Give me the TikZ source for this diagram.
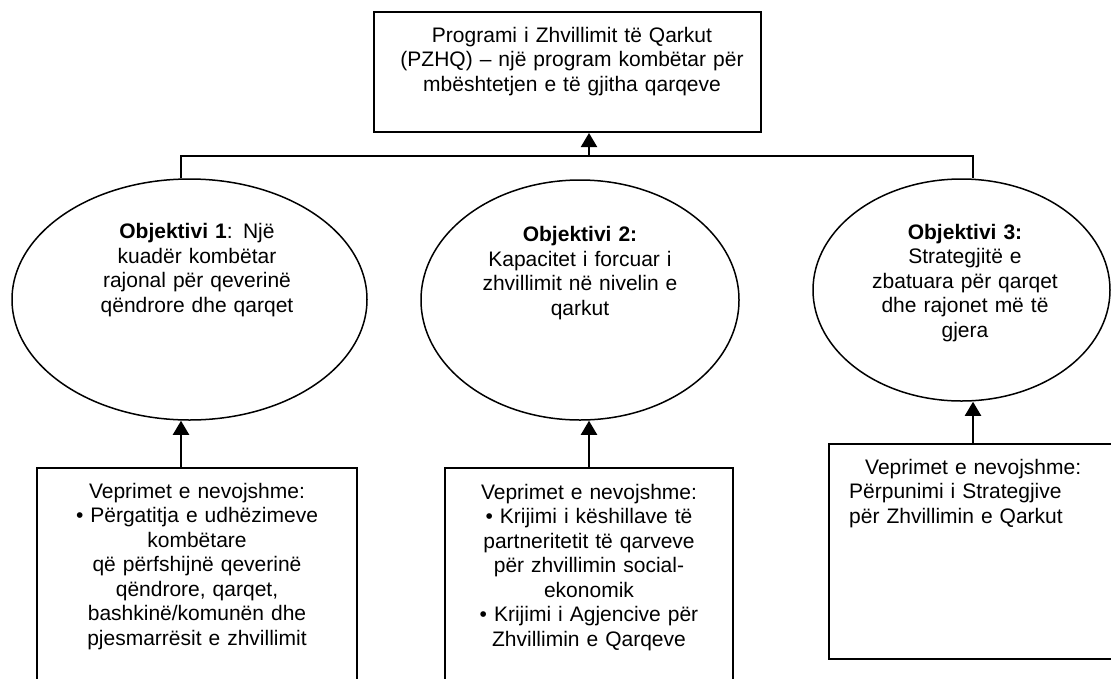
\documentclass[tikz,border=0pt]{standalone}
\usepackage{fontspec}
\setmainfont{Liberation Sans}
\usetikzlibrary{arrows.meta,shapes.geometric}
\begin{document}
\begin{tikzpicture}[x=1pt,y=-1pt,
  boxnode/.style={draw, line width=2pt, rectangle, inner sep=0pt},
  ovalnode/.style={draw, line width=1.5pt, ellipse, inner sep=0pt},
  txt/.style={font=\fontsize{21}{24.5}\selectfont, inner sep=0pt, anchor=base, align=center, text width=440pt},
  conn/.style={line width=2pt},
  arr/.style={line width=2pt, -{Triangle[width=16pt,length=14pt]}}
]
\useasboundingbox (0,0) rectangle (1111,678);
% shapes
\node[boxnode, minimum width=387pt, minimum height=120pt] (top) at (567.5,72) {};
\node[ovalnode, minimum width=355pt, minimum height=241pt] (e1) at (189.5,299.5) {};
\node[ovalnode, minimum width=318pt, minimum height=240pt] (e2) at (580,300) {};
\node[ovalnode, minimum width=297pt, minimum height=222pt] (e3) at (961.5,290) {};
\node[boxnode, minimum width=320pt, minimum height=222pt] (b1) at (197,579) {};
\node[boxnode, minimum width=288pt, minimum height=222pt] (b2) at (589,579) {};
\node[boxnode, minimum width=285pt, minimum height=215pt] (b3) at (971.5,551.5) {};
% texts
\node[txt] (t0) at (572,42) {Programi i Zhvillimit të Qarkut\\(PZHQ) – një program kombëtar për\\mbështetjen e të gjitha qarqeve};
\node[txt] (t1) at (197,238.5) {\textbf{Objektivi 1}: Një\\kuadër kombëtar\\rajonal për qeverinë\\qëndrore dhe qarqet};
\node[txt] (t2) at (580,241.5) {\textbf{Objektivi 2:}\\Kapacitet i forcuar i\\zhvillimit në nivelin e\\qarkut};
\node[txt] (t3) at (965,239) {\textbf{Objektivi 3:}\\Strategjitë e\\zbatuara për qarqet\\dhe rajonet më të\\gjera};
\node[txt] (t4) at (197,498) {Veprimet e nevojshme:\\• Përgatitja e udhëzimeve\\kombëtare\\që përfshijnë qeverinë\\qëndrore, qarqet,\\bashkinë/komunën dhe\\pjesmarrësit e zhvillimit};
\node[txt] (t5) at (589,499) {Veprimet e nevojshme:\\• Krijimi i këshillave të\\partneritetit të qarveve\\për zhvillimin social-\\ekonomik\\• Krijimi i Agjencive për\\Zhvillimin e Qarqeve};
\node[txt, anchor=base west, align=left, text width=250pt] (t6) at (849,474) {\hspace*{16pt}Veprimet e nevojshme:\\Përpunimi i Strategjive\\për Zhvillimin e Qarkut};
% connectors
\coordinate (hub) at (589,156);
\coordinate (bl) at (181,156);
\coordinate (br) at (973,156);
\draw[arr] (hub) -- (hub |- top.south);
\draw[conn] (bl |- e1.north) -- (bl) -- (br) -- (br |- e3.north);
\draw[arr] (bl |- b1.north) -- (bl |- e1.south);
\draw[arr] (b2.north) -- (b2.north |- e2.south);
\draw[arr] (br |- b3.north) -- (br |- e3.south);
\end{tikzpicture}
\end{document}
